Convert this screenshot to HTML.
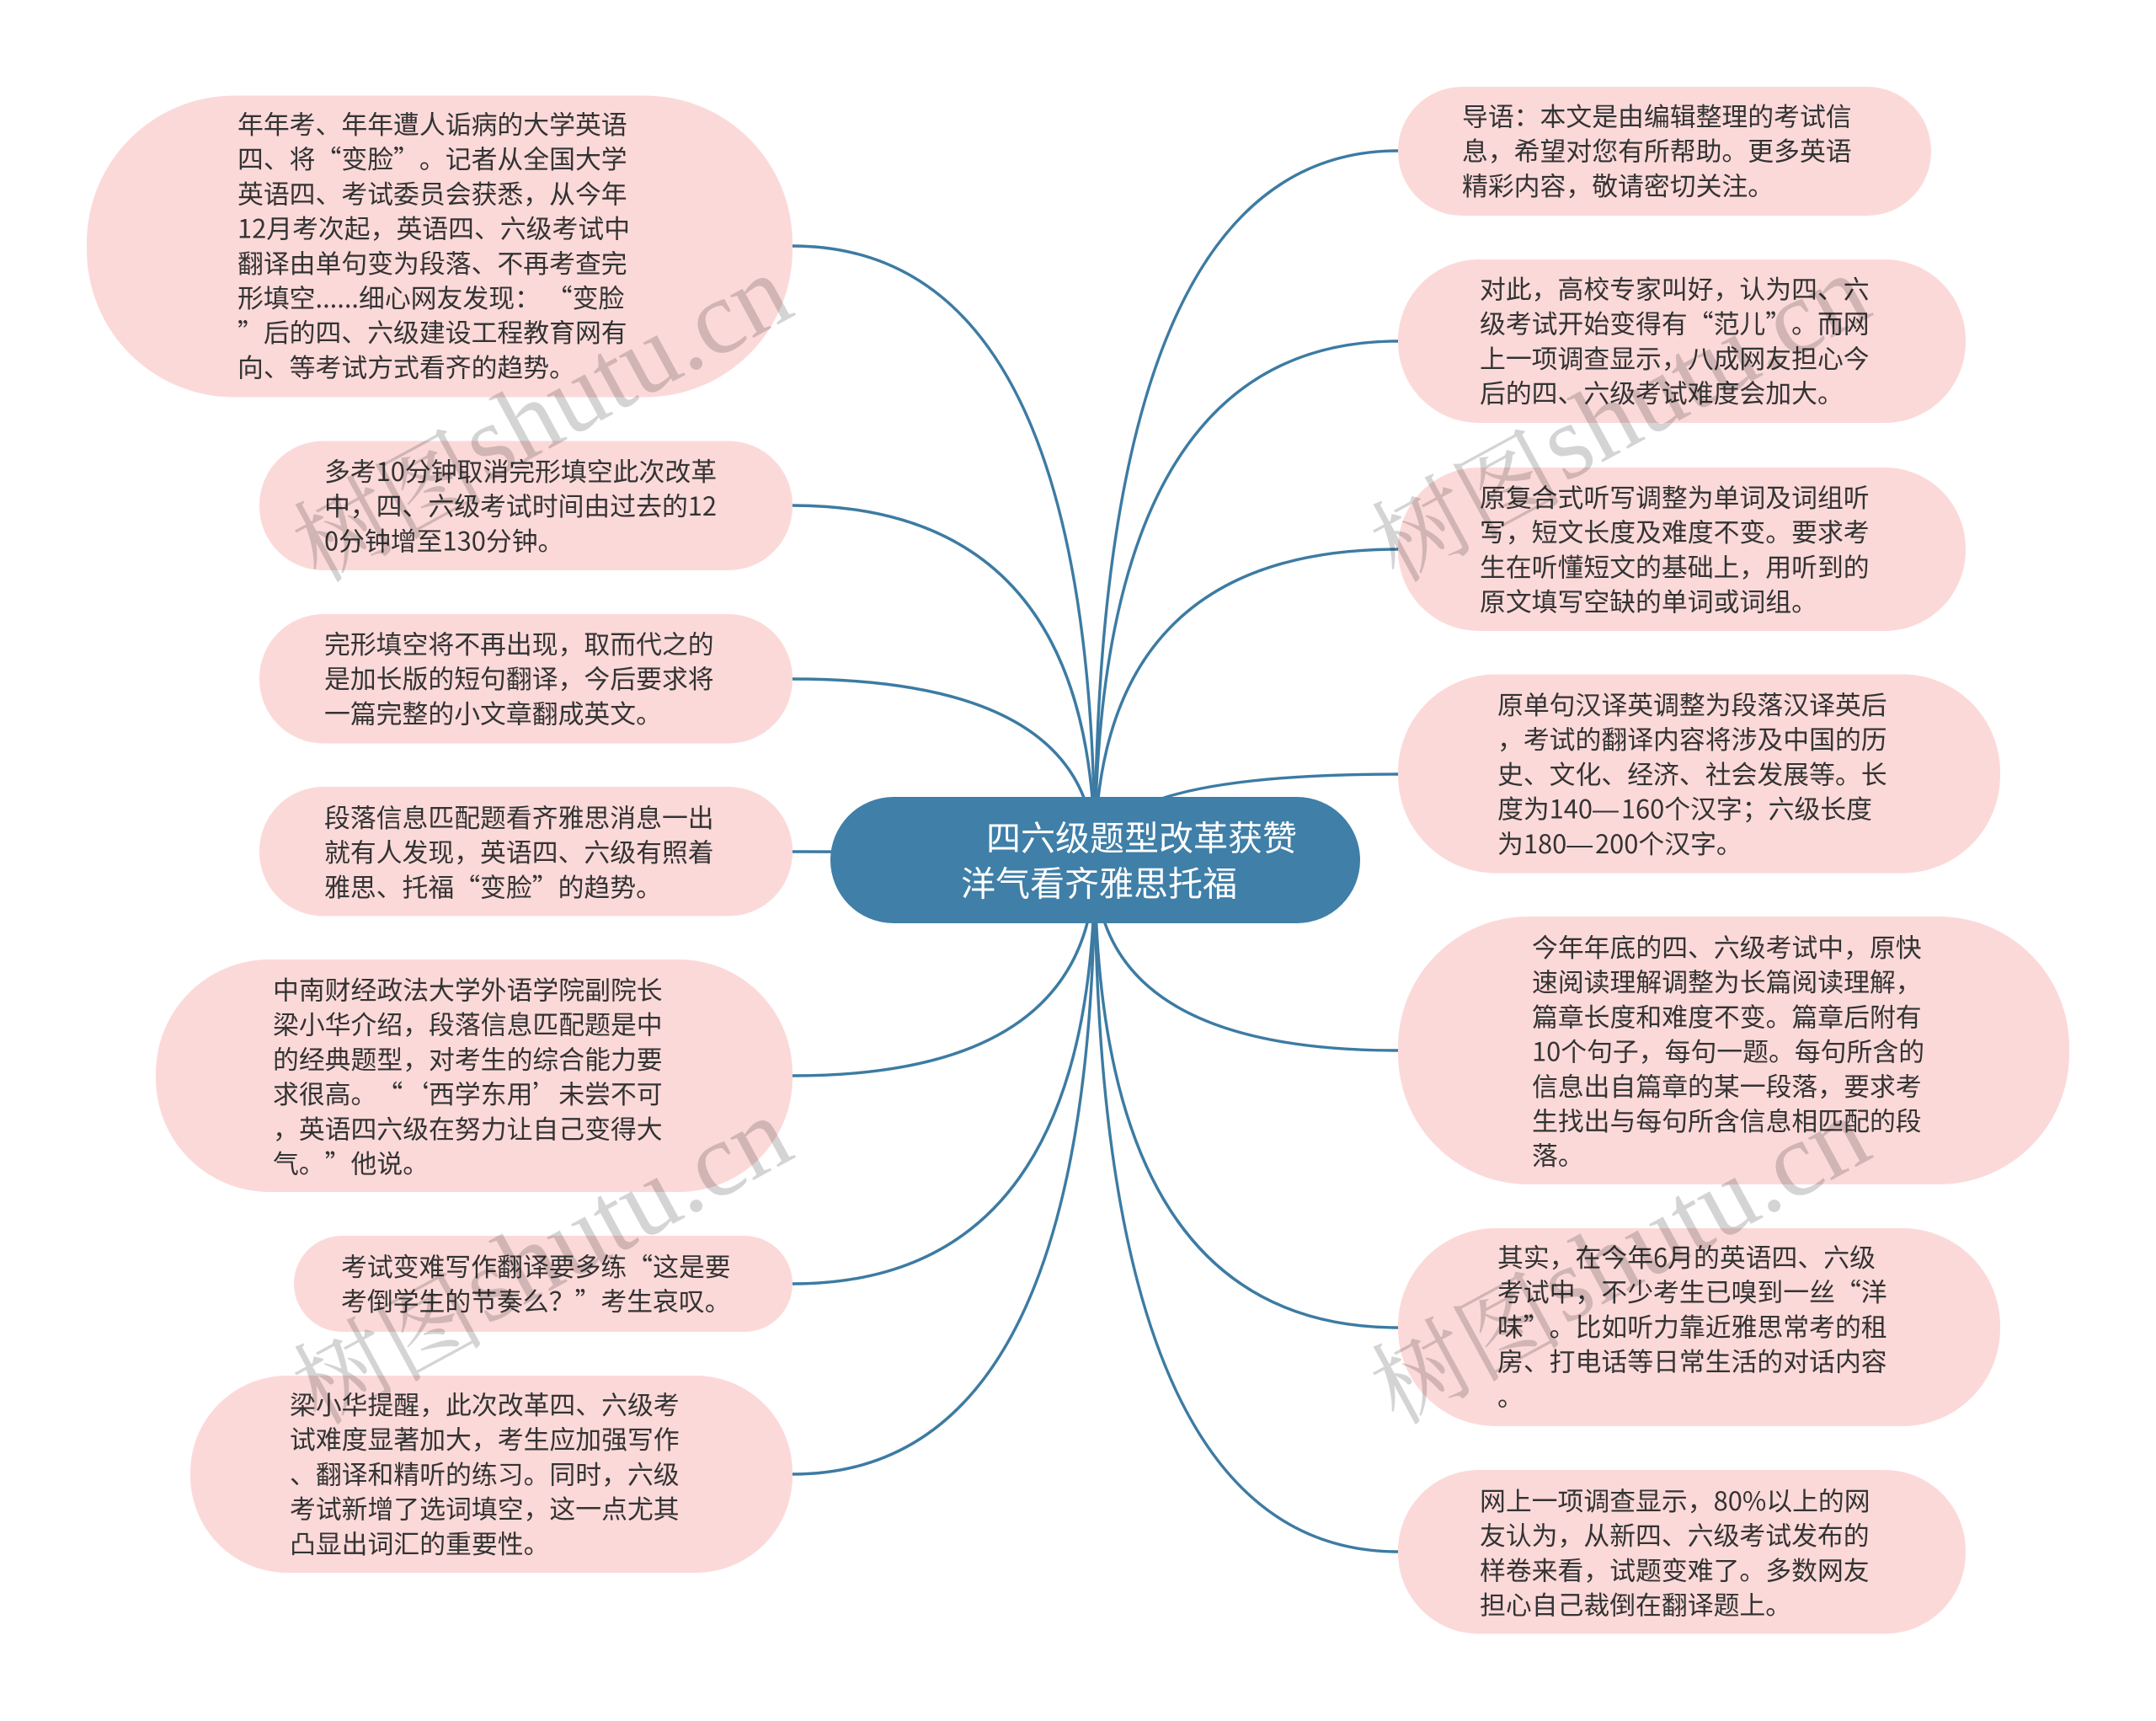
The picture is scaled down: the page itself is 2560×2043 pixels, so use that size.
<!DOCTYPE html>
<html><head><meta charset="utf-8"><style>
html,body{margin:0;padding:0;background:#fff}
svg{display:block}
text{text-spacing-trim:space-all;text-autospace:no-autospace;font-kerning:none}
.t{font:30.85px "Noto Sans CJK SC","Liberation Sans",sans-serif;fill:#333}
.c{font:41px "Noto Sans CJK SC","Liberation Sans",sans-serif;fill:#fff}
.w{font:125px "Liberation Serif","Noto Serif CJK SC",serif;fill:rgba(0,0,0,.17)}
.z{font-size:114px}
.d{font-family:"Liberation Sans",sans-serif}
</style></head><body>
<svg width="2560" height="2043" viewBox="0 0 2560 2043" xmlns="http://www.w3.org/2000/svg">
<rect width="2560" height="2043" fill="#fff"/>
<g fill="none" stroke="#3c7ba3" stroke-width="3.4">
<path d="M1300 1021Q1300 292 941 292"/>
<path d="M1300 1021Q1300 600 941 600"/>
<path d="M1300 1021Q1300 806 941 806"/>
<path d="M1300 1021Q1300 1011 941 1011"/>
<path d="M1300 1021Q1300 1277 941 1277"/>
<path d="M1300 1021Q1300 1524 941 1524"/>
<path d="M1300 1021Q1300 1750 941 1750"/>
<path d="M1300 1021Q1300 179 1660 179"/>
<path d="M1300 1021Q1300 405 1660 405"/>
<path d="M1300 1021Q1300 652 1660 652"/>
<path d="M1300 1021Q1300 919 1660 919"/>
<path d="M1300 1021Q1300 1247 1660 1247"/>
<path d="M1300 1021Q1300 1576 1660 1576"/>
<path d="M1300 1021Q1300 1842 1660 1842"/>
</g>
<rect x="986" y="946" width="629" height="150" rx="75" fill="#3f7fa8"/>
<g fill="#fcd9d9">
<rect x="103" y="113.5" width="838" height="358" rx="175"/>
<rect x="308" y="523.5" width="633" height="153.5" rx="76"/>
<rect x="308" y="729" width="633" height="153.5" rx="76"/>
<rect x="308" y="934" width="633" height="153.5" rx="76"/>
<rect x="185" y="1139" width="756" height="276" rx="135"/>
<rect x="349" y="1467" width="592" height="114" rx="57"/>
<rect x="226" y="1633" width="715" height="234" rx="115"/>
<rect x="1660" y="103" width="633" height="153" rx="76"/>
<rect x="1660" y="308" width="674" height="194" rx="96"/>
<rect x="1660" y="555" width="674" height="194" rx="96"/>
<rect x="1660" y="800.5" width="715" height="236" rx="116"/>
<rect x="1660" y="1088" width="797" height="318" rx="155"/>
<rect x="1660" y="1458" width="715" height="235" rx="116"/>
<rect x="1660" y="1745" width="674" height="194.5" rx="96"/>
</g>
<text class="c"><tspan x="1171" y="1009.5">四六级题型改革获赞</tspan><tspan x="1141" y="1063.5">洋气看齐雅思托福</tspan></text>
<text class="t" y="159"><tspan x="282" y="159">年年考、年年遭人诟病的大学英语</tspan><tspan x="282" dy="41.2">四、将“变脸”。记者从全国大学</tspan><tspan x="282" dy="41.2">英语四、考试委员会获悉，从今年</tspan><tspan x="282" dy="41.2">12月考次起，英语四、六级考试中</tspan><tspan x="282" dy="41.2">翻译由单句变为段落、不再考查完</tspan><tspan x="282" dy="41.2">形填空......细心网友发现： “变脸</tspan><tspan x="282" dy="41.2">”后的四、六级建设工程教育网有</tspan><tspan x="282" dy="41.2">向、等考试方式看齐的趋势。</tspan></text>
<text class="t"><tspan x="385" y="571">多考10分钟取消完形填空此次改革</tspan><tspan x="385" dy="41.2">中，四、六级考试时间由过去的12</tspan><tspan x="385" dy="41.2">0分钟增至130分钟。</tspan></text>
<text class="t"><tspan x="385" y="776">完形填空将不再出现，取而代之的</tspan><tspan x="385" dy="41.2">是加长版的短句翻译，今后要求将</tspan><tspan x="385" dy="41.2">一篇完整的小文章翻成英文。</tspan></text>
<text class="t"><tspan x="385" y="982">段落信息匹配题看齐雅思消息一出</tspan><tspan x="385" dy="41.2">就有人发现，英语四、六级有照着</tspan><tspan x="385" dy="41.2">雅思、托福“变脸”的趋势。</tspan></text>
<text class="t"><tspan x="324" y="1186.5">中南财经政法大学外语学院副院长</tspan><tspan x="324" dy="41.2">梁小华介绍，段落信息匹配题是中</tspan><tspan x="324" dy="41.2">的经典题型，对考生的综合能力要</tspan><tspan x="324" dy="41.2">求很高。“‘西学东用’未尝不可</tspan><tspan x="324" dy="41.2">，英语四六级在努力让自己变得大</tspan><tspan x="324" dy="41.2">气。”他说。</tspan></text>
<text class="t"><tspan x="405" y="1515">考试变难写作翻译要多练“这是要</tspan><tspan x="405" dy="41.2">考倒学生的节奏么？”考生哀叹。</tspan></text>
<text class="t"><tspan x="344" y="1679">梁小华提醒，此次改革四、六级考</tspan><tspan x="344" dy="41.2">试难度显著加大，考生应加强写作</tspan><tspan x="344" dy="41.2">、翻译和精听的练习。同时，六级</tspan><tspan x="344" dy="41.2">考试新增了选词填空，这一点尤其</tspan><tspan x="344" dy="41.2">凸显出词汇的重要性。</tspan></text>
<text class="t"><tspan x="1736" y="149.5">导语：本文是由编辑整理的考试信</tspan><tspan x="1736" dy="41.2">息，希望对您有所帮助。更多英语</tspan><tspan x="1736" dy="41.2">精彩内容，敬请密切关注。</tspan></text>
<text class="t"><tspan x="1757" y="354.5">对此，高校专家叫好，认为四、六</tspan><tspan x="1757" dy="41.2">级考试开始变得有“范儿”。而网</tspan><tspan x="1757" dy="41.2">上一项调查显示，八成网友担心今</tspan><tspan x="1757" dy="41.2">后的四、六级考试难度会加大。</tspan></text>
<text class="t"><tspan x="1757" y="602">原复合式听写调整为单词及词组听</tspan><tspan x="1757" dy="41.2">写，短文长度及难度不变。要求考</tspan><tspan x="1757" dy="41.2">生在听懂短文的基础上，用听到的</tspan><tspan x="1757" dy="41.2">原文填写空缺的单词或词组。</tspan></text>
<text class="t"><tspan x="1778" y="848">原单句汉译英调整为段落汉译英后</tspan><tspan x="1778" dy="41.2">，考试的翻译内容将涉及中国的历</tspan><tspan x="1778" dy="41.2">史、文化、经济、社会发展等。长</tspan><tspan x="1778" dy="41.2">度为140<tspan class="d">—</tspan><tspan dx="3">160个汉字；六级长度</tspan></tspan><tspan x="1778" dy="41.2">为180<tspan class="d">—</tspan><tspan dx="3">200个汉字。</tspan></tspan></text>
<text class="t"><tspan x="1819" y="1136">今年年底的四、六级考试中，原快</tspan><tspan x="1819" dy="41.2">速阅读理解调整为长篇阅读理解，</tspan><tspan x="1819" dy="41.2">篇章长度和难度不变。篇章后附有</tspan><tspan x="1819" dy="41.2">10个句子，每句一题。每句所含的</tspan><tspan x="1819" dy="41.2">信息出自篇章的某一段落，要求考</tspan><tspan x="1819" dy="41.2">生找出与每句所含信息相匹配的段</tspan><tspan x="1819" dy="41.2">落。</tspan></text>
<text class="t"><tspan x="1778" y="1504">其实，在今年6月的英语四、六级</tspan><tspan x="1778" dy="41.2">考试中，不少考生已嗅到一丝“洋</tspan><tspan x="1778" dy="41.2">味”。比如听力靠近雅思常考的租</tspan><tspan x="1778" dy="41.2">房、打电话等日常生活的对话内容</tspan><tspan x="1778" dy="41.2">。</tspan></text>
<text class="t"><tspan x="1757" y="1793">网上一项调查显示，80%以上的网</tspan><tspan x="1757" dy="41.2">友认为，从新四、六级考试发布的</tspan><tspan x="1757" dy="41.2">样卷来看，试题变难了。多数网友</tspan><tspan x="1757" dy="41.2">担心自己裁倒在翻译题上。</tspan></text>
<text class="w" transform="translate(379 681) rotate(-28.5)"><tspan class="z" x="-6" y="10">树图</tspan><tspan x="226" y="0">shutu.cn</tspan></text>
<text class="w" transform="translate(1659 681) rotate(-28.5)"><tspan class="z" x="-6" y="10">树图</tspan><tspan x="226" y="0">shutu.cn</tspan></text>
<text class="w" transform="translate(379 1681) rotate(-28.5)"><tspan class="z" x="-6" y="10">树图</tspan><tspan x="226" y="0">shutu.cn</tspan></text>
<text class="w" transform="translate(1659 1681) rotate(-28.5)"><tspan class="z" x="-6" y="10">树图</tspan><tspan x="226" y="0">shutu.cn</tspan></text>
</svg>
</body></html>
